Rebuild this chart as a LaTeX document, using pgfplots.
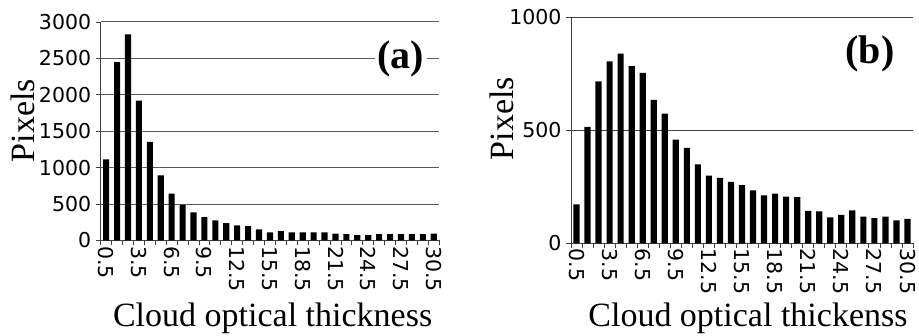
\documentclass[border=0pt]{standalone}
\usepackage{fontspec}
\setmainfont{Liberation Serif}
\newfontfamily\dejavu{DejaVu Sans}
\usepackage{pgfplots}
\pgfplotsset{compat=1.18}
\pgfplotsset{
  mybase/.style={
    scale only axis,
    axis lines*=left,
    axis line style={black!75, line width=1pt},
    ybar, bar width=0.56,
    xmin=0, xmax=31, ymin=0,
    xtick={0.5,3.5,6.5,9.5,12.5,15.5,18.5,21.5,24.5,27.5,30.5},
    xticklabels={0.5,3.5,6.5,9.5,12.5,15.5,18.5,21.5,24.5,27.5,30.5},
    minor xtick={0,1,...,31},
    tick align=outside,
    major tick length=0pt,
    minor tick length=5pt,
    minor tick style={black!75, line width=0.8pt},
    ymajorgrids=true,
    /pgf/number format/assume math mode=true,
    /pgf/number format/1000 sep={},
    tick label style={font=\fontsize{20.5}{20.5}\dejavu},
    xticklabel style={rotate=-90, anchor=west, xshift=2pt},
    yticklabel style={xshift=-6pt},
    label style={font=\fontsize{34}{34}\selectfont},
  }
}
\begin{document}
\begin{tikzpicture}
\useasboundingbox (0pt,0pt) rectangle (919pt,336pt);
\begin{axis}[mybase,
  at={(100.7pt,95.5pt)}, anchor=south west,
  width=338.5pt, height=218.5pt,
  ymax=3000,
  ytick={0,500,1000,1500,2000,2500,3000},
  minor ytick={0,500,1000,1500,2000,2500,3000},
  major grid style={black!65, line width=1pt},
  xlabel={Cloud optical thickness},
  ylabel={Pixels},
  xlabel style={at={(axis description cs:0.508,-0.3945)}, anchor=base},
  ylabel style={at={(axis description cs:-0.2287,0.549)}, anchor=center},
]
\addplot[fill=black, draw=none] coordinates {
(0.5,1115) (1.5,2450) (2.5,2830) (3.5,1922) (4.5,1353) (5.5,894) (6.5,642)
(7.5,490) (8.5,385) (9.5,321) (10.5,275) (11.5,239) (12.5,206) (13.5,197)
(14.5,151) (15.5,110) (16.5,128) (17.5,110) (18.5,110) (19.5,110) (20.5,110)
(21.5,96) (22.5,87) (23.5,73) (24.5,73) (25.5,87) (26.5,87) (27.5,87)
(28.5,87) (29.5,87) (30.5,96)
};
\node[fill=white, inner sep=3pt, font=\fontsize{40}{40}\selectfont\bfseries]
  at (rel axis cs:0.887,0.831) {(a)};
\end{axis}
\begin{axis}[mybase,
  at={(571pt,92.7pt)}, anchor=south west,
  width=342pt, height=226pt,
  ymax=1000,
  ytick={0,500,1000},
  minor ytick={0,500,1000},
  major grid style={black!75, line width=1pt},
  xlabel={Cloud optical thickenss},
  ylabel={Pixels},
  xlabel style={at={(axis description cs:0.5175,-0.369)}, anchor=base},
  ylabel style={at={(axis description cs:-0.2026,0.551)}, anchor=center},
]
\addplot[fill=black, draw=none] coordinates {
(0.5,172) (1.5,515) (2.5,717) (3.5,805) (4.5,839) (5.5,784) (6.5,754)
(7.5,635) (8.5,574) (9.5,459) (10.5,422) (11.5,349) (12.5,299) (13.5,290)
(14.5,272) (15.5,257) (16.5,234) (17.5,212) (18.5,220) (19.5,207) (20.5,204)
(21.5,143) (22.5,141) (23.5,115) (24.5,126) (25.5,146) (26.5,118) (27.5,111)
(28.5,118) (29.5,101) (30.5,108)
};
\node[inner sep=3pt, font=\fontsize{40}{40}\selectfont\bfseries]
  at (rel axis cs:0.874,0.8376) {(b)};
\end{axis}
\end{tikzpicture}
\end{document}
